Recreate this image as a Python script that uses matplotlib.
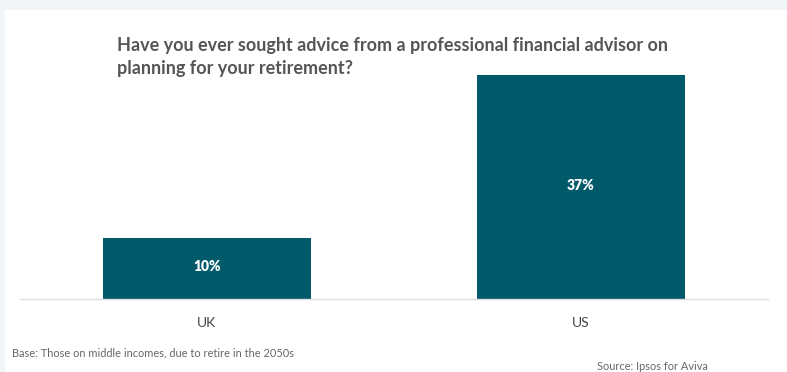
import matplotlib.pyplot as plt
from matplotlib.patches import Rectangle

countries = ['UK', 'US']
shares = [10, 37]

title = ('Have you ever sought advice from a professional financial advisor on\n'
         'planning for your retirement?')
base_note = 'Base: Those on middle incomes, due to retire in the 2050s'
source_note = 'Source: Ipsos for Aviva'

bar_color = '#015a6a'
text_grey = '#555555'

plt.rcParams['font.family'] = ['Lato', 'DejaVu Sans']

fig = plt.figure(figsize=(7.87, 3.72), dpi=100)
fig.patch.set_facecolor('#f2f5f7')
# white card on the grey page
fig.patches.append(Rectangle((5 / 787, 0), 1, 1 - 10 / 372, transform=fig.transFigure,
                             facecolor='white', edgecolor='none', zorder=0))

ax = fig.add_axes([20 / 787, 1 - 299 / 372, 748 / 787, 224 / 372])
ax.set_zorder(2)
ax.set_facecolor('none')
x = range(len(countries))
bars = ax.bar(x, shares, width=0.555, color=bar_color)
for b, v in zip(bars, shares):
    ax.text(b.get_x() + b.get_width() / 2, v / 2 + 0.3, f'{v}%', ha='center', va='center',
            color='white', fontsize=10, fontweight='heavy')

ax.set_xlim(-0.5, 1.5)
ax.set_ylim(0, 37)
ax.set_xticks(list(x))
ax.set_xticklabels(countries, fontsize=10, color='#444444')
ax.tick_params(axis='x', length=0, pad=13)
ax.set_yticks([])
for s in ['top', 'right', 'left']:
    ax.spines[s].set_visible(False)
ax.spines['bottom'].set_color('#dddddd')
ax.spines['bottom'].set_linewidth(1)

fig.text(117 / 787, 1 - 37 / 372, title, ha='left', va='top', fontsize=13,
         fontweight='bold', color=text_grey, linespacing=1.45, zorder=3)
fig.text(12 / 787, 1 - 353 / 372, base_note, ha='left', va='center', fontsize=7.9,
         color='#666666', zorder=3)
fig.text(597 / 787, 1 - 366 / 372, source_note, ha='left', va='center', fontsize=7.9,
         color='#666666', zorder=3)

fig.savefig('out.png', dpi=100, facecolor=fig.get_facecolor())
